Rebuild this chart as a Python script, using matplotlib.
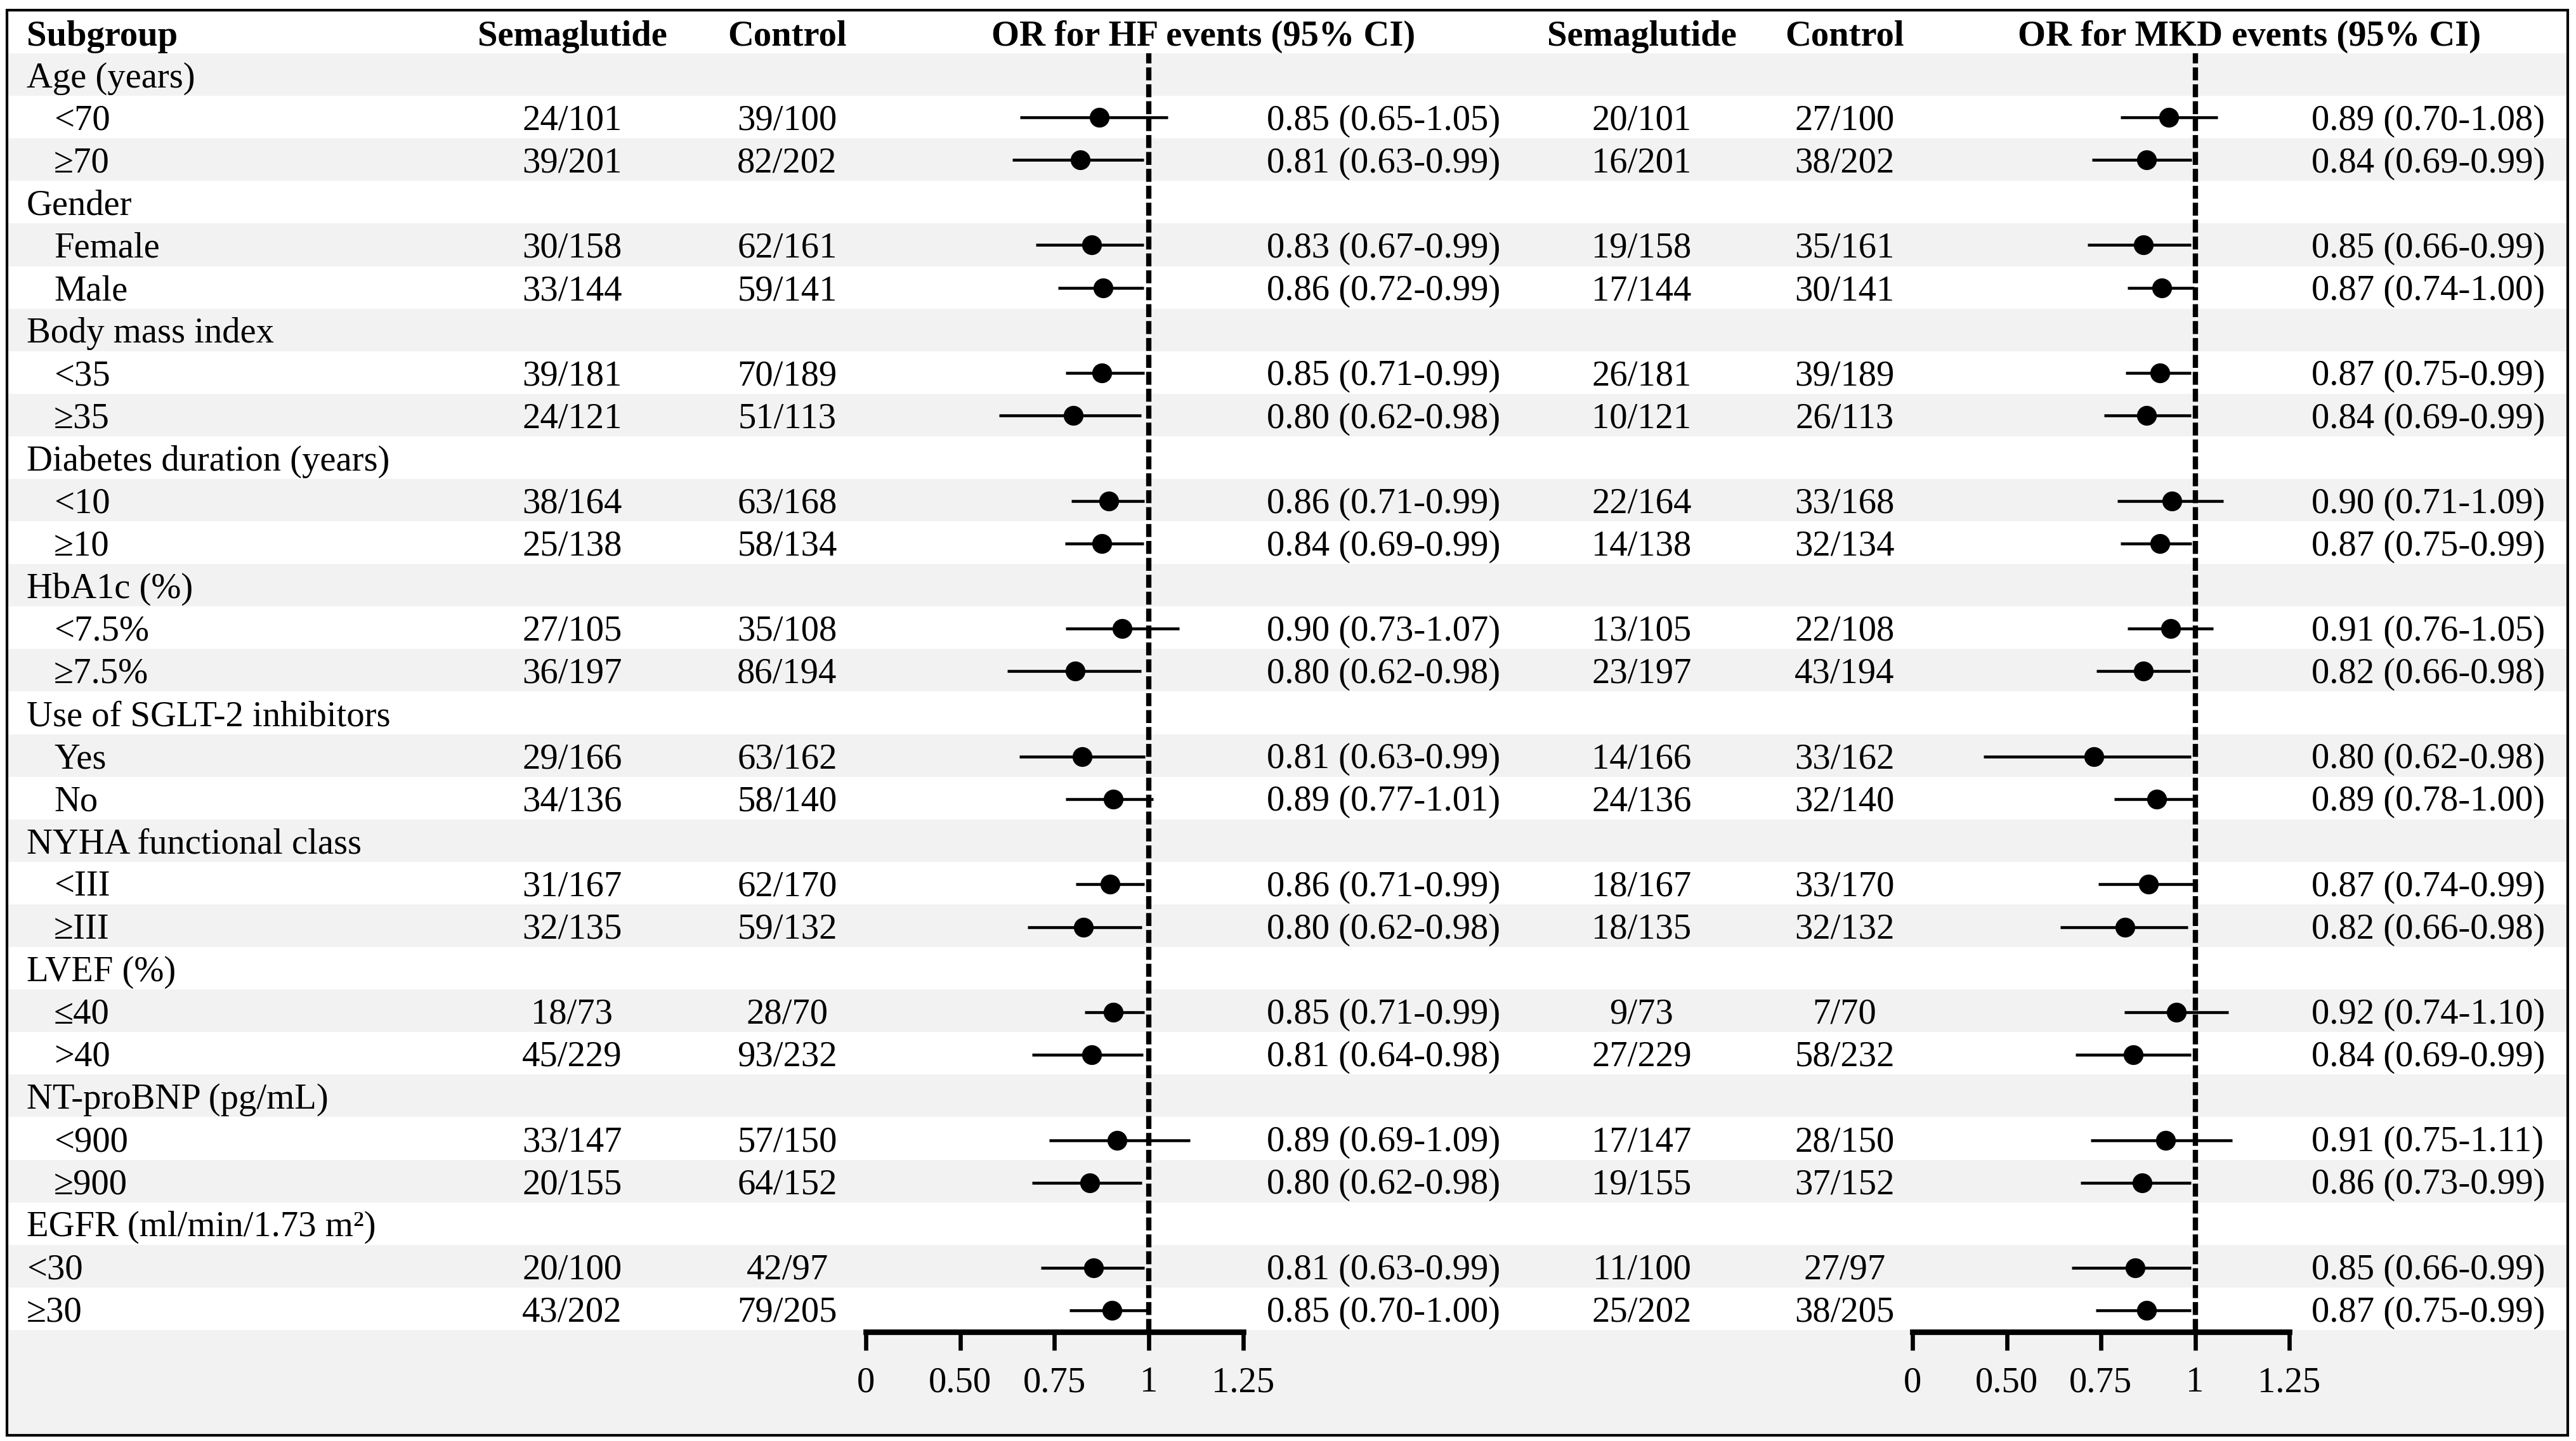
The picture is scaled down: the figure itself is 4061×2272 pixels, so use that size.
import numpy as np
import matplotlib
matplotlib.use('Agg')
import matplotlib.pyplot as plt
from matplotlib.patches import Rectangle

plt.rcParams['font.family'] = ['Liberation Serif', 'DejaVu Serif']

nan = np.nan
labels = ["Age (years)", "<70", "≥70", "Gender", "Female", "Male",
          "Body mass index", "<35", "≥35", "Diabetes duration (years)", "<10", "≥10",
          "HbA1c (%)", "<7.5%", "≥7.5%", "Use of SGLT-2 inhibitors", "Yes", "No",
          "NYHA functional class", "<III", "≥III", "LVEF (%)", "≤40", ">40",
          "NT-proBNP (pg/mL)", "<900", "≥900", "EGFR (ml/min/1.73 m²)", "<30", "≥30"]
indent = [0, 1, 1, 0, 1, 1, 0, 1, 1, 0, 1, 1, 0, 1, 1, 0, 1, 1, 0, 1, 1, 0, 1, 1, 0, 1, 1, 0, 0, 0]

sema_hf = ["", "24/101", "39/201", "", "30/158", "33/144", "", "39/181", "24/121", "", "38/164", "25/138",
           "", "27/105", "36/197", "", "29/166", "34/136", "", "31/167", "32/135", "", "18/73", "45/229",
           "", "33/147", "20/155", "", "20/100", "43/202"]
ctrl_hf = ["", "39/100", "82/202", "", "62/161", "59/141", "", "70/189", "51/113", "", "63/168", "58/134",
           "", "35/108", "86/194", "", "63/162", "58/140", "", "62/170", "59/132", "", "28/70", "93/232",
           "", "57/150", "64/152", "", "42/97", "79/205"]
ci_hf = ["", "0.85 (0.65-1.05)", "0.81 (0.63-0.99)", "", "0.83 (0.67-0.99)", "0.86 (0.72-0.99)",
         "", "0.85 (0.71-0.99)", "0.80 (0.62-0.98)", "", "0.86 (0.71-0.99)", "0.84 (0.69-0.99)",
         "", "0.90 (0.73-1.07)", "0.80 (0.62-0.98)", "", "0.81 (0.63-0.99)", "0.89 (0.77-1.01)",
         "", "0.86 (0.71-0.99)", "0.80 (0.62-0.98)", "", "0.85 (0.71-0.99)", "0.81 (0.64-0.98)",
         "", "0.89 (0.69-1.09)", "0.80 (0.62-0.98)", "", "0.81 (0.63-0.99)", "0.85 (0.70-1.00)"]
sema_mkd = ["", "20/101", "16/201", "", "19/158", "17/144", "", "26/181", "10/121", "", "22/164", "14/138",
            "", "13/105", "23/197", "", "14/166", "24/136", "", "18/167", "18/135", "", "9/73", "27/229",
            "", "17/147", "19/155", "", "11/100", "25/202"]
ctrl_mkd = ["", "27/100", "38/202", "", "35/161", "30/141", "", "39/189", "26/113", "", "33/168", "32/134",
            "", "22/108", "43/194", "", "33/162", "32/140", "", "33/170", "32/132", "", "7/70", "58/232",
            "", "28/150", "37/152", "", "27/97", "38/205"]
ci_mkd = ["", "0.89 (0.70-1.08)", "0.84 (0.69-0.99)", "", "0.85 (0.66-0.99)", "0.87 (0.74-1.00)",
          "", "0.87 (0.75-0.99)", "0.84 (0.69-0.99)", "", "0.90 (0.71-1.09)", "0.87 (0.75-0.99)",
          "", "0.91 (0.76-1.05)", "0.82 (0.66-0.98)", "", "0.80 (0.62-0.98)", "0.89 (0.78-1.00)",
          "", "0.87 (0.74-0.99)", "0.82 (0.66-0.98)", "", "0.92 (0.74-1.10)", "0.84 (0.69-0.99)",
          "", "0.91 (0.75-1.11)", "0.86 (0.73-0.99)", "", "0.85 (0.66-0.99)", "0.87 (0.75-0.99)"]

# plotted positions as drawn
hf_or = np.array([nan, .868, .818, nan, .849, .879, nan, .876, .800, nan, .894, .876, nan, .929, .805,
                  nan, .823, .906, nan, .897, .826, nan, .906, .849, nan, .915, .844, nan, .853, .902])
hf_lo = np.array([nan, .659, .638, nan, .701, .759, nan, .780, .603, nan, .794, .777, nan, .780, .624,
                  nan, .656, .780, nan, .807, .679, nan, .830, .691, nan, .736, .691, nan, .714, .789])
hf_hi = np.array([nan, 1.050, .986, nan, .986, .986, nan, .988, .979, nan, .988, .986, nan, 1.080, .979,
                  nan, .989, 1.011, nan, .988, .981, nan, .988, .984, nan, 1.108, .981, nan, .988, .996])
mkd_or = np.array([nan, .930, .871, nan, .862, .912, nan, .907, .871, nan, .939, .907, nan, .935, .862,
                   nan, .732, .898, nan, .876, .814, nan, .951, .836, nan, .921, .859, nan, .841, .871])
mkd_lo = np.array([nan, .803, .726, nan, .714, .821, nan, .816, .759, nan, .794, .803, nan, .821, .739,
                   nan, .439, .785, nan, .744, .642, nan, .812, .682, nan, .723, .696, nan, .673, .736])
mkd_hi = np.array([nan, 1.060, .991, nan, .989, .998, nan, .989, .989, nan, 1.075, .991, nan, 1.048, .987,
                   nan, .989, 1.001, nan, 1.001, .980, nan, 1.089, .989, nan, 1.098, .989, nan, .989, .989])

tick_vals = [0.25, 0.5, 0.75, 1.0, 1.25]
tick_labels = ['0', '0.50', '0.75', '1', '1.25']

W, H = 4061, 2272
fig = plt.figure(figsize=(W / 300, H / 300), dpi=300)
bg = fig.add_axes([0, 0, 1, 1])
bg.set_xlim(0, W)
bg.set_ylim(H, 0)
bg.axis('off')

top, row_h, n = 84, 67.1, len(labels)
box_l, box_r, box_t, box_b = 11, 4048, 16, 2263
gray = '#f2f2f2'
fs = 13.6

for i in range(n):
    if i % 2 == 0:
        bg.add_patch(Rectangle((box_l, top + i * row_h), box_r - box_l, row_h, color=gray, lw=0))
bg.add_patch(Rectangle((box_l, top + n * row_h), box_r - box_l, box_b - top - n * row_h, color=gray, lw=0))
bg.add_patch(Rectangle((box_l, box_t), box_r - box_l, box_b - box_t, fill=False, ec='black', lw=1.0, zorder=5))

# header
hy = 72
bg.text(42, hy, 'Subgroup', fontsize=fs, fontweight='bold', va='baseline')
bg.text(902, hy, 'Semaglutide', fontsize=fs, fontweight='bold', ha='center', va='baseline')
bg.text(1241, hy, 'Control', fontsize=fs, fontweight='bold', ha='center', va='baseline')
bg.text(1897, hy, 'OR for HF events (95% CI)', fontsize=fs, fontweight='bold', ha='center', va='baseline')
bg.text(2588, hy, 'Semaglutide', fontsize=fs, fontweight='bold', ha='center', va='baseline')
bg.text(2908, hy, 'Control', fontsize=fs, fontweight='bold', ha='center', va='baseline')
bg.text(3546, hy, 'OR for MKD events (95% CI)', fontsize=fs, fontweight='bold', ha='center', va='baseline')

for i in range(n):
    yb = top + (i + 0.5) * row_h + 20
    bg.text(85 if indent[i] else 42, yb, labels[i], fontsize=fs, va='baseline')
    bg.text(902, yb, sema_hf[i], fontsize=fs, ha='center', va='baseline')
    bg.text(1241, yb, ctrl_hf[i], fontsize=fs, ha='center', va='baseline')
    bg.text(1997, yb, ci_hf[i], fontsize=fs, va='baseline')
    bg.text(2588, yb, sema_mkd[i], fontsize=fs, ha='center', va='baseline')
    bg.text(2908, yb, ctrl_mkd[i], fontsize=fs, ha='center', va='baseline')
    bg.text(3644, yb, ci_mkd[i], fontsize=fs, va='baseline')


def forest(x0, x1, est, lo, hi):
    ax_bottom = 2100
    ax = fig.add_axes([x0 / W, 1 - ax_bottom / H, (x1 - x0) / W, (ax_bottom - top) / H])
    ax.patch.set_alpha(0)
    ax.set_xlim(0.25, 1.25)
    ax.set_ylim(n, 0)
    y = np.arange(n) + 0.5
    ax.hlines(y, lo, hi, color='black', lw=1.1)
    ax.plot(est, y, 'o', color='black', ms=6.5)
    ax.axvline(1, color='black', lw=2.0, ls=(0, (2.45, 0.75)))
    for s in ['top', 'left', 'right']:
        ax.spines[s].set_visible(False)
    ax.spines['bottom'].set_linewidth(2.1)
    ax.set_yticks([])
    ax.set_xticks(tick_vals)
    ax.set_xticklabels(tick_labels, fontsize=fs)
    ax.tick_params(axis='x', direction='out', length=7, width=1.6, pad=6)
    return ax


forest(1365, 1960, hf_or, hf_lo, hf_hi)
forest(3015, 3609, mkd_or, mkd_lo, mkd_hi)

fig.savefig('out.png', dpi=300)
